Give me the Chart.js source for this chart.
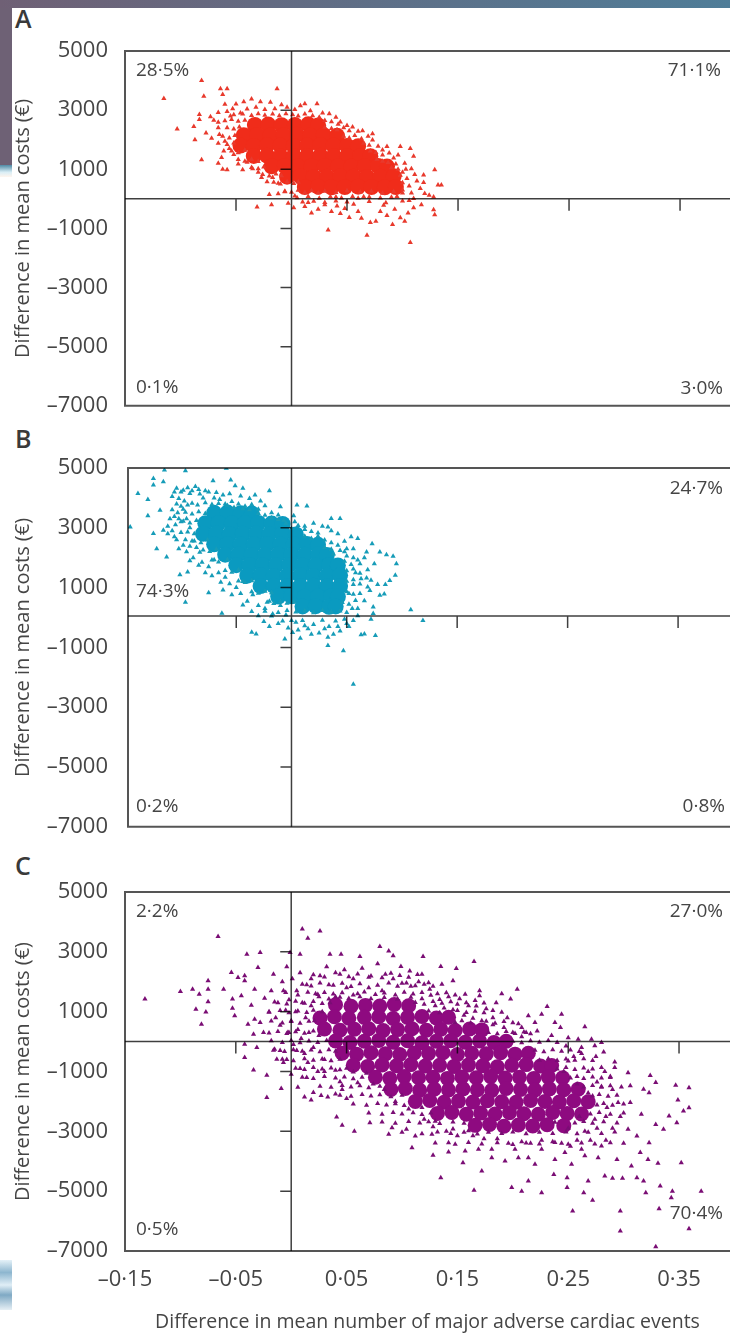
<!DOCTYPE html>
<html>
<head>
<meta charset="utf-8">
<title>Cost-effectiveness planes</title>
<script src="https://cdn.jsdelivr.net/npm/chart.js@4"></script>
<style>
    html, body { margin: 0; padding: 0; background: #fff; }
    body { position: relative; width: 730px; height: 1334px; overflow: hidden; font-family: "Open Sans", sans-serif; }
    canvas { position: absolute; left: 0; }
    .strip { position: absolute; }
    .letter { position: absolute; left: 15px; font-size: 25px; font-weight: 600; line-height: 26px; color: #3a3a3a; }
</style>
</head>
<body>
<div class="strip" style="left:0;top:0;width:730px;height:8px;background:linear-gradient(90deg,#6f6075,#4f7d98)"></div>
<div class="strip" style="left:0;top:8px;width:12px;height:157px;background:#6e6175"></div>
<div class="strip" style="left:0;top:165px;width:12px;height:12px;background:linear-gradient(180deg,#4f8aa5,#d9eef6 60%,#fff5ee)"></div>
<div class="strip" style="left:0;top:1260px;width:12px;height:50px;background:linear-gradient(180deg,#e4f1f8,#8db6cf 25%,#e0eef6 50%,#7fa9c4 70%,#e6eff5)"></div>
<div class="letter" style="top:5px">A</div>
<div class="letter" style="top:425px">B</div>
<div class="letter" style="top:852px">C</div>

<canvas id="chart-a" width="730" height="428" style="top:0"></canvas>
<canvas id="chart-b" width="730" height="432" style="top:420px"></canvas>
<canvas id="chart-c" width="730" height="489" style="top:845px"></canvas>

<script>
// Tick values and labels
const xTicks = [-0.15, -0.05, 0.05, 0.15, 0.25, 0.35];
const xTickLabels = ['–0·15', '–0·05', '0·05', '0·15', '0·25', '0·35'];
const yTicks = [5000, 3000, 1000, -1000, -3000, -5000, -7000];
const yTickLabels = ['5000', '3000', '1000', '–1000', '–3000', '–5000', '–7000'];

// Quadrant percentages: top left, top right, bottom left, bottom right
const quadrantsA = ['28·5%', '71·1%', '0·1%', '3·0%'];
const quadrantsB = ['74·3%', '24·7%', '0·2%', '0·8%'];
const quadrantsC = ['2·2%', '27·0%', '0·5%', '70·4%'];

// Panel A, scattered replicates
const scatterA = [
    [-.115,3390],[-.081,4000],[-.103,2360],[-.088,2450],[-.087,2000],[-.081,1320],[-.079,3470],[-.083,2850],[-.064,3720],[-.058,3720],[-.062,3530],[-.013,3720],[.023,3220],
    [-.083,2680],[-.073,2780],[-.070,2660],[-.066,2920],[-.066,2590],[-.066,2400],[-.065,2180],[-.060,3200],[-.058,2950],[-.055,2800],[-.053,3050],[-.050,3210],[-.046,2900],[-.043,3280],[-.040,3040],[-.036,3380],[-.032,3100],[-.028,3280],[-.024,3020],[-.019,3270],[-.015,3050],[-.009,3180],[-.004,3100],[.003,3020],[.008,3150],[.012,3220],[.017,2980],[.028,2900],[.034,2880],[.040,2760],[.044,2600],[.050,2480],[.055,2430],[.060,2290],[.064,2300],[.069,2120],[.073,2200],[.073,1990],[.078,1780],[.082,1650],[.088,1550],[.092,1380],[.096,1480],[.102,1200],[.103,1000],[.108,1020],[.111,820],[.113,600],[.116,350],[.120,180],[.124,120],[.128,60],
    [-.077,2230],[-.072,2050],[-.066,1880],[-.060,1950],[-.056,1700],[-.066,1200],[-.062,1000],[-.058,980],[-.063,1400],[-.061,1620],[-.052,1500],[-.048,1180],[-.044,980],[-.040,1240],[-.035,1020],[-.030,900],[-.027,720],[-.022,580],[-.017,720],[-.012,530],[-.020,150],[-.012,170],[-.006,240],[.003,100],
    [-.031,-280],[-.018,-200],[-.003,-150],[.002,-300],[.012,-260],[.018,-480],[.024,-350],[.030,-200],[.033,-1050],[.036,-430],[.041,-240],[.044,-500],[.048,-330],[.052,-630],[.056,-180],[.060,-430],[.063,-660],[.068,-1230],[.071,-800],[.076,-760],[.080,-430],[.083,-220],[.086,-560],[.091,-870],[.093,-350],[.098,-640],[.102,-760],[.105,-480],[.107,-1480],[.110,-300],[.128,-370],[.129,-540],[.117,-200],[.015,-120],[.040,60],[.065,70],[.090,50],[.100,200],[.106,-60],
    [.129,980],[.132,470],[.135,470],[.086,1770],[.098,1770],[.107,1700],[.110,1440],[.119,810],[.119,550],
    [-.052,2840],[-.044,2870],[-.036,2820],[-.030,2880],[-.024,2830],[-.017,2870],[-.011,2810],[-.005,2880],[.001,2840],[.006,2800],[.012,2870],[.019,2810],[.025,2760],
    [-.060,2640],[-.054,2680],[-.048,2620],[-.042,2660],[.030,2650],[.036,2610],[.042,2520],
    [-.058,2400],[-.052,2360],[-.047,2430],[.030,2420],[.036,2380],[.041,2340],[.047,2400],[.052,2300],
    [-.062,2120],[-.056,2060],[-.051,2140],[.047,2120],[.052,2060],[.057,2140],[.063,2030],
    [-.058,1840],[-.052,1890],[.065,1880],[.070,1810],
    [-.054,1620],[-.048,1560],[-.042,1640],[.071,1620],[.076,1570],[.082,1480],
    [-.048,1330],[-.042,1270],[-.036,1340],[-.030,1260],[.077,1340],[.082,1270],[.087,1230],[.094,1180],
    [-.036,1060],[-.030,1020],[-.025,1080],[.090,1050],[.096,1000],[.100,900],
    [-.026,820],[-.020,770],[-.014,840],[-.009,780],[.098,800],[.104,690],
    [-.016,560],[-.010,500],[-.004,580],[.002,520],[.006,570],[.100,540],[.106,430],
    [-.006,260],[.000,220],[.006,290],[.012,210],[.018,270],[.024,200],[.030,260],[.040,210],[.050,270],[.062,220],[.072,260],[.082,190],[.092,250],[.100,300],[.108,200],
    [.005,40],[.015,80],[.025,20],[.035,70],[.045,30],[.055,80],[.060,20],[.070,60],[.080,30],[.095,80],[.110,10],
    [.010,-110],[.020,-80],[.030,-120],[.040,-70],[.050,-110],[.070,-90],[.085,-130],[.100,-70]
];

// Panel A, the solid part of the cloud
const denseA = [
    [-.033,2500],[-.021,2510],[-.009,2490],[.003,2500],[.015,2520],[.024,2480],
    [-.043,2150],[-.031,2160],[-.019,2140],[-.007,2150],[.005,2170],[.017,2140],[.029,2150],[.041,2130],
    [-.046,1800],[-.034,1790],[-.022,1810],[-.010,1800],[.002,1790],[.014,1800],[.026,1820],[.038,1800],[.050,1790],[.060,1780],
    [-.034,1450],[-.022,1460],[-.010,1440],[.002,1450],[.014,1440],[.026,1460],[.038,1450],[.050,1440],[.062,1450],[.071,1440],
    [-.018,1100],[-.006,1110],[.006,1090],[.018,1100],[.030,1110],[.042,1100],[.054,1090],[.066,1100],[.078,1110],[.086,1090],
    [-.004,750],[.008,760],[.020,740],[.032,750],[.044,760],[.056,750],[.068,740],[.080,750],[.092,760],
    [.012,400],[.024,410],[.036,390],[.048,400],[.060,410],[.072,400],[.084,390],[.094,400]
];

// Panel B
const scatterB = [
    [-.146,3030],[-.139,4150],[-.130,3950],[-.130,3400],[-.125,4650],[-.125,4430],[-.116,4540],[-.115,4930],[-.096,4910],[-.059,4990],[-.055,4600],[-.119,3590],[-.116,2920],[-.125,2810],[-.122,2300],[-.113,2020],[-.101,1430],[-.094,1520],[-.096,510],[-.075,830],[-.063,145],[.056,-2230],[.047,-1110],[.033,-940],[.033,-660],[-.032,-550],[-.036,-490],[-.006,-720],[.008,-690],[.063,-580],[.066,-550],[.076,-600],[.108,260],[.119,-100],
    [.092,2050],[.086,2100],[.080,2190],[.073,2470],[.095,1800],[.094,1410],[.089,1240],[.084,790],[.080,740],[.074,350],[.069,1020],[.068,2190],[.054,2700],[.060,2640],[.044,3310],[.036,3310],[.033,3030],[.014,3730],[.005,3760],[-.020,4240],[-.033,4100],[-.044,4320],[-.051,4410],[-.071,4570],
    [-.104,4320],[-.100,4200],[-.094,4340],[-.092,4150],[-.087,4380],[-.083,4130],[-.102,3980],[-.097,3900],[-.080,4000],[-.075,4200],[-.070,4000],[-.065,3950],[-.060,3800],[-.054,3880],[-.048,3800],[-.042,3720],[-.036,3780],[-.030,3620],[-.024,3740],[-.018,3500],[-.012,3430],[-.007,3250],[.002,3400],
    [-.108,3600],[-.103,3500],[-.098,3620],[-.095,3300],[-.110,3300],[-.105,3100],[-.100,3200],[-.092,3000],[-.112,2800],[-.106,2700],[-.100,2840],[-.096,2600],[-.090,2560],[-.102,2300],[-.095,2200],[-.089,2000],[-.083,2180],[-.081,1850],[-.075,1700],[-.070,1930],[-.066,1500],[-.060,1350],[-.056,1130],[-.050,1000],[-.044,1200],[-.046,800],[-.040,540],[-.035,760],[-.030,400],[-.024,300],[-.020,540],[-.017,120],[-.010,400],[-.005,80],[.000,-100],
    [-.025,-130],[-.018,50],[-.012,-200],[-.003,-350],[.001,-500],[.004,-160],[.010,-100],[.015,-380],[.020,-230],[.025,-520],[.028,-90],[.034,-300],[.040,-120],[.044,-450],[.048,-60],[.052,-300],[.072,-60],[.074,130],[.060,60],
    [.050,2300],[.056,2000],[.062,1800],[.066,2000],[.058,1500],[.063,1300],[.069,1600],[.072,1250],[.075,1800],[.071,900],[.062,800],[.066,560],[.055,300],[.060,300],[.052,800],[.056,1100],[.078,1100],[.048,2550],[.042,2800],[.036,2900],[.028,3050],[.020,3150],[.012,3050],[.085,1100],
    [-.090,3820],[-.085,3760],[-.078,3840],[-.072,3780],[-.066,3810],[-.058,3750],[-.052,3680],[-.044,3640],[-.038,3600],[-.030,3480],
    [-.096,3520],[-.090,3460],[-.084,3540],[-.078,3480],[-.024,3420],[-.018,3330],[-.012,3280],[-.005,3150],[.003,3200],
    [-.098,3220],[-.092,3160],[-.086,3240],[.000,2980],[.006,3080],[.012,2940],[.018,2880],[.024,2830],
    [-.094,2860],[-.088,2800],[.012,2720],[.018,2640],[.024,2720],[.030,2590],[.036,2500],
    [-.088,2560],[-.082,2500],[-.076,2590],[.030,2340],[.036,2280],[.042,2420],[.048,2200],
    [-.080,2260],[-.074,2210],[-.068,2280],[.038,2120],[.044,2240],[.050,2060],[.056,2300],
    [-.072,1920],[-.066,1860],[-.058,1930],[.048,1880],[.054,1770],[.060,1920],
    [-.060,1570],[-.054,1510],[-.048,1590],[.050,1560],[.056,1620],[.062,1480],[.068,1320],
    [-.048,1220],[-.042,1170],[-.036,1230],[.050,1210],[.056,1260],[.062,1120],
    [-.036,860],[-.030,810],[-.024,880],[-.018,830],[.050,860],[.056,780],
    [-.022,510],[-.016,470],[-.010,530],[-.004,480],[.002,520],[.046,500],[.052,440],[.058,570],
    [-.024,210],[-.012,170],[-.004,230],[.004,180],[.012,220],[.020,160],[.028,230],[.036,180],[.044,220],[.050,170],
    [-.106,4200],[-.098,4260],[-.090,4240],[-.084,4280],[-.078,4240],[-.068,4180],[-.062,4100],[-.056,4140],[-.046,4060],[-.038,3980],[-.028,3900],[-.010,3700],
    [-.108,4050],[-.104,3800],[-.100,3720],[-.094,3760],[-.106,3380],[-.102,3300],[-.112,3050],[-.108,2900],[-.104,2600],[-.098,2420],[-.092,2380],[-.086,2340],[-.092,1900],[-.084,1750],[-.078,1500],[-.072,1400],[-.064,1180],[-.062,920],[-.054,760],[-.044,420],[-.036,200],[-.030,60],
    [-.020,-300],[-.008,-120],[.006,-420],[.012,-280],[.018,-560],[.030,-380],[.038,-560],[.042,-300],[.050,-200],[.056,-100]
];

const denseB = [
    [-.070,3500],[-.058,3510],[-.046,3490],[-.036,3480],
    [-.078,3150],[-.066,3160],[-.054,3140],[-.042,3150],[-.030,3160],[-.018,3140],[-.008,3130],
    [-.080,2800],[-.068,2810],[-.056,2790],[-.044,2800],[-.032,2810],[-.020,2790],[-.008,2800],[.004,2780],
    [-.070,2450],[-.058,2460],[-.046,2440],[-.034,2450],[-.022,2460],[-.010,2440],[.002,2450],[.014,2460],[.024,2430],
    [-.060,2100],[-.048,2110],[-.036,2090],[-.024,2100],[-.012,2110],[.000,2090],[.012,2100],[.024,2110],[.032,2090],
    [-.050,1750],[-.038,1760],[-.026,1740],[-.014,1750],[-.002,1760],[.010,1740],[.022,1750],[.034,1760],[.042,1740],
    [-.040,1400],[-.028,1410],[-.016,1390],[-.004,1400],[.008,1410],[.020,1390],[.032,1400],[.044,1410],
    [-.028,1050],[-.016,1060],[-.004,1040],[.008,1050],[.020,1060],[.032,1040],[.044,1050],
    [-.012,700],[.000,710],[.012,690],[.024,700],[.036,710],[.042,690],
    [.010,370],[.022,380],[.034,360],[.040,370]
];

// Panel C
const scatterC = [
    [-.132,1420],[-.100,1670],[-.089,1750],[-.083,1580],[-.075,2030],[-.075,1750],[-.075,1330],[-.086,1080],[-.077,990],[-.081,580],[-.066,3510],[-.061,1750],[-.054,2310],[-.048,2140],[-.042,2200],[-.042,2030],[-.040,2920],[-.028,2980],[-.030,2480],[-.053,1420],[-.053,1115],[-.051,860],[-.045,1530],[-.036,1215],[-.033,1750],[-.039,580],[-.033,750],[-.034,245],[-.025,300],[-.042,-90],[-.031,-200],[-.042,-535],[-.034,-950],[-.022,-1125],[-.022,-1870],[-.009,-1570],[-.015,-260],[-.013,-590],[-.007,-700],[.000,-1090],[-.001,2980],[.008,2920],[.010,3760],[.015,3450],[.026,3700],[.035,2920],[.045,2920],[.062,2840],
    [-.024,1450],[-.020,1000],[-.018,1700],[-.016,2250],[-.014,800],[-.012,1300],[-.010,550],[-.008,2000],[-.007,1700],[-.005,1050],[-.004,2500],[-.003,300],[-.002,1400],[.000,700],[.001,2100],[.002,-100],[.004,1000],[.005,1700],[.006,400],[.008,2300],[.009,100],[.010,1300],[.012,-400],[.013,800],[.014,1900],[.015,-700],[.016,300],[.018,1200],[.018,2100],[.020,-200],[.021,700],[.022,1600],[.024,-1000],[.025,200],[.026,2200],[.028,1000],[.030,-600],[.032,2500],[.034,1900],[-.010,-300],[-.004,-600],[.005,-300],[.008,-900],[.014,-1200],[.020,-1700],[.027,-1800],[.033,-1850],[.040,-1750],[.046,-1600],[.050,-1900],[.041,-2520],[.046,-2800],[.057,-3000],[.006,-1530],[.012,-1850],[.018,-1950],[-.002,300],
    [.080,3180],[.088,3030],[.092,2870],[.119,2840],[.135,2510],[.149,2440],[.165,2680],[.099,2510],[.107,2360],[.118,2250],[.124,1970],[.136,1920],[.146,2030],[.170,1700],[.170,1530],[.204,1750],[.190,1600],[.198,1420],[.185,1300],[.157,1580],[.167,1190],[.231,1170],[.244,910],[.226,910],[.238,640],[.265,500],[.214,860],[.220,640],[.208,470],[.243,470],[.250,130],[.259,80],[.271,80],[.280,-30],[.274,-140],[.282,-350],[.292,-680],[.292,-870],[.304,-1040],[.324,-1130],[.329,-1370],[.318,-1590],[.323,-1710],[.347,-1460],[.359,-1540],[.349,-1950],[.359,-2210],[.354,-2320],[.341,-2490],[.348,-2710],[.336,-2930],[.329,-2770],[.323,-3380],[.316,-2430],[.306,-2040],[.295,-2040],[.288,-1200],[.306,-1480],[.304,-2930],[.312,-3160],
    [.352,-4050],[.331,-4070],[.322,-3940],[.315,-3710],[.307,-4160],[.294,-3940],[.283,-4490],[.290,-4570],[.299,-4570],[.312,-4550],[.318,-4660],[.320,-5050],[.333,-4830],[.344,-5000],[.370,-5000],[.343,-5220],[.332,-5590],[.359,-6260],[.297,-5660],[.297,-6330],[.329,-6860],[.254,-5660],[.272,-5300],[.264,-5050],[.268,-4660],[.249,-4550],[.249,-4880],[.237,-4440],[.226,-5050],[.214,-4660],[.208,-5000],[.199,-4880],[.165,-4970],[.135,-4550],[.128,-3800],[.109,-3550],[.172,-4330],[.155,-4050],[.142,-3690],[.157,-3660],[.169,-3600],[.181,-3880],[.193,-3990],[.205,-3880],[.214,-3880],[.220,-4100],[.238,-3940],[.253,-4100],[.265,-3820],[.277,-3880],[.091,-2880],[.088,-3100],[.104,-2930],[.112,-3160],[.127,-3100],[.071,-2710],[.142,-3380],[.181,-3600],[.202,-3600],[.226,-3600],[.247,-3710],[.262,-3600],[.280,-3490],
    [.275,-500],[.283,-1000],[.280,-1500],[.290,-1600],[.285,-2200],[.297,-2500],[.290,-2900],[.284,-3300],[.300,-3400],[.276,-2900],[.270,-3300],[.265,-3000],[.258,-3300],[.252,-3500],[.244,-3400],[.236,-3350],[.226,-3300],[.216,-3400],[.208,-3350],[.196,-3400],[.186,-3250],[.174,-3250],[.164,-3150],[.150,-3150],[.140,-3000],[.128,-2850],[.120,-2600],[.262,-200],[.255,-500],[.268,-1000],[.262,-400],[.248,-150],[.235,200],[.222,350],[.212,300],
    [.040,2300],[.048,2400],[.056,2100],[.064,2450],[.070,2150],[.078,2600],[.085,2250],[.092,2100],[.100,1950],[.108,1850],[.115,2000],[.125,1750],[.132,1600],[.142,1500],[.150,1250],[.160,1200],[.176,1100],[.182,800],[.195,800],[.205,600],[.040,1500],[.050,1800],[.060,1600],[.070,1800],[.082,1700],[.035,1300],
    [.020,2230],[.030,2160],[.044,2250],[.052,2170],[.060,2260],[.072,2190],[.082,2130],[.090,2280],[.098,2210],[.106,2150],[.114,2240],
    [.010,1920],[.018,1860],[.026,1960],[.038,1880],[.046,1950],[.054,1840],[.062,1930],[.078,1880],[.088,1960],[.096,1850],[.104,1960],[.112,1870],[.120,1920],[.128,1850],
    [-.005,1640],[.006,1560],[.015,1650],[.024,1570],[.030,1640],[.038,1590],[.046,1630],[.056,1560],[.066,1660],[.076,1570],[.084,1620],[.094,1560],[.102,1650],[.110,1590],[.118,1640],[.126,1550],[.134,1410],[.140,1630],[.148,1560],
    [-.015,1320],[-.004,1260],[.004,1350],[.012,1280],[.020,1340],[.028,1270],[.112,1310],[.120,1250],[.128,1340],[.136,1280],[.144,1330],[.152,1430],[.158,1300],[.166,1370],[.174,1290],
    [-.020,980],[-.010,1040],[-.002,960],[.006,1020],[.014,970],[.020,1050],[.124,1020],[.134,960],[.150,1040],[.158,970],[.166,1010],[.174,960],[.182,1040],[.190,980],
    [-.028,640],[-.018,690],[-.008,620],[.000,670],[.008,610],[.016,680],[.148,640],[.154,700],[.162,620],[.176,680],[.184,610],[.192,670],[.200,630],
    [-.020,290],[-.012,340],[-.004,270],[.004,330],[.012,280],[.020,350],[.178,300],[.186,260],[.194,340],[.202,270],[.210,320],[.216,260],
    [-.018,30],[-.008,-30],[.000,40],[.008,-40],[.016,20],[.024,-30],[.032,40],[.200,10],[.208,-40],[.216,30],[.224,-20],[.232,40],[.240,-30],
    [-.016,-290],[-.006,-330],[.002,-270],[.010,-320],[.018,-280],[.026,-340],[.034,-270],[.040,-320],[.220,-290],[.228,-340],[.236,-270],[.244,-320],[.252,-280],[.260,-330],
    [-.008,-590],[.002,-640],[.012,-570],[.020,-620],[.028,-580],[.036,-640],[.044,-590],[.224,-620],[.232,-570],[.240,-630],[.248,-580],[.256,-620],[.264,-570],[.272,-630],
    [.004,-890],[.012,-930],[.020,-870],[.028,-920],[.036,-880],[.044,-940],[.050,-890],[.240,-920],[.248,-870],[.256,-930],[.264,-880],[.272,-920],[.280,-870],
    [.010,-1190],[.020,-1230],[.030,-1170],[.040,-1220],[.048,-1180],[.056,-1240],[.064,-1190],[.252,-1220],[.258,-1170],[.264,-1230],[.272,-1180],[.280,-1220],[.288,-1170],
    [.026,-1490],[.036,-1530],[.046,-1470],[.054,-1520],[.062,-1480],[.070,-1540],[.080,-1490],[.264,-1520],[.272,-1470],[.280,-1530],[.288,-1480],[.298,-1520],
    [.044,-1790],[.054,-1830],[.064,-1770],[.072,-1820],[.080,-1780],[.090,-1840],[.100,-1790],[.272,-1820],[.278,-1770],[.286,-1830],[.294,-1790],
    [.056,-2090],[.068,-2130],[.078,-2070],[.086,-2120],[.094,-2080],[.102,-2140],[.276,-2120],[.282,-2070],[.290,-2130],[.300,-2090],
    [.070,-2390],[.082,-2430],[.092,-2370],[.100,-2420],[.110,-2380],[.118,-2440],[.126,-2390],[.270,-2420],[.278,-2370],[.288,-2430],[.300,-2390],
    [.082,-2690],[.094,-2730],[.106,-2670],[.116,-2720],[.124,-2680],[.134,-2740],[.146,-2690],[.156,-2730],[.256,-2720],[.264,-2670],[.272,-2730],[.282,-2680],[.294,-2720],
    [.100,-3030],[.118,-3080],[.132,-3020],[.144,-3070],[.156,-3030],[.168,-3090],[.178,-3030],[.190,-3070],[.200,-3020],[.212,-3080],[.224,-3030],[.236,-3070],[.248,-3020],[.258,-3080],[.268,-3030],[.280,-3070],[.292,-3020],
    [.130,-3390],[.148,-3430],[.160,-3370],[.172,-3420],[.186,-3380],[.200,-3440],[.212,-3390],[.224,-3420],[.238,-3370],[.250,-3430],[.262,-3390],[.274,-3420],[.288,-3380],
    [.025,1500],[.034,1420],[.044,1480],[.052,1440],[.062,1500],[.072,1430],[.084,1470],[.096,1420],[.108,1480],[.118,1430],[.130,1200],[.138,1120],[.146,1060],[.156,880],[.164,780],[.172,700],[.182,560],[.192,470],[.200,300],[.208,160],
    [.030,-1000],[.040,-960],[.044,-1340],[.056,-1020],[.060,-1380],[.068,-1060],[.074,-1420],[.084,-1600],[.094,-2000],[.106,-2250],[.118,-2200],[.130,-2660],[.146,-2920],[.160,-2980],[.238,-2700],[.250,-2900],[.260,-2500],[.274,-2600],[.250,-650],[.246,-1000],[.258,-1420],[.268,-1720],[.276,-1350],[.284,-2500]
];

const denseC = [
    [.040,1230],[.054,1180],[.067,1210],[.080,1190],[.093,1240],[.106,1200],
    [.026,790],[.039,830],[.052,780],[.066,810],[.079,830],[.092,770],[.105,810],[.118,840],[.131,790],[.142,810],
    [.030,420],[.044,380],[.057,410],[.070,430],[.083,370],[.096,400],[.109,430],[.122,380],[.135,410],[.148,370],[.161,420],[.172,390],
    [.040,20],[.053,-30],[.066,10],[.079,40],[.092,-20],[.105,30],[.118,-40],[.131,10],[.144,30],[.157,-20],[.170,20],[.183,-30],[.194,10],
    [.046,-390],[.059,-420],[.072,-370],[.085,-410],[.098,-430],[.111,-380],[.124,-400],[.137,-370],[.150,-430],[.163,-390],[.176,-410],[.189,-370],[.202,-420],[.214,-390],
    [.056,-790],[.069,-830],[.082,-780],[.095,-810],[.108,-770],[.121,-820],[.134,-790],[.147,-830],[.160,-780],[.173,-810],[.186,-840],[.199,-790],[.212,-770],[.225,-820],[.235,-800],
    [.076,-1190],[.089,-1230],[.102,-1170],[.115,-1210],[.128,-1190],[.141,-1230],[.154,-1180],[.167,-1210],[.180,-1170],[.193,-1220],[.206,-1190],[.219,-1230],[.232,-1180],[.245,-1210],
    [.090,-1600],[.103,-1570],[.116,-1630],[.129,-1590],[.142,-1620],[.155,-1580],[.168,-1610],[.181,-1630],[.194,-1570],[.207,-1600],[.220,-1620],[.233,-1580],[.246,-1610],[.259,-1590],
    [.112,-2000],[.125,-1970],[.138,-2030],[.151,-1990],[.164,-2020],[.177,-1980],[.190,-2010],[.203,-2030],[.216,-1970],[.229,-2000],[.242,-2020],[.255,-1980],[.268,-2010],
    [.132,-2400],[.145,-2370],[.158,-2430],[.171,-2390],[.184,-2420],[.197,-2380],[.210,-2410],[.223,-2430],[.236,-2370],[.249,-2400],[.262,-2420],
    [.166,-2800],[.179,-2770],[.192,-2830],[.205,-2790],[.218,-2820],[.231,-2780],[.246,-2810]
];

const axisColor = '#3f3f3f';
const textColor = '#454545';
const fontFamily = '"Open Sans", sans-serif';

// Box, crossing axes, their ticks and the quadrant percentages
const planePlugin = {
    id: 'plane',
    afterDatasetsDraw(chart, args, opts) {
        const { ctx, chartArea: area, scales: { x, y } } = chart;
        const zeroX = x.getPixelForValue(0);
        const zeroY = y.getPixelForValue(opts.zeroLine);

        ctx.save();
        ctx.globalCompositeOperation = 'multiply';
        ctx.strokeStyle = axisColor;
        ctx.lineWidth = 1.5;
        ctx.beginPath();
        ctx.moveTo(zeroX, area.top);
        ctx.lineTo(zeroX, area.bottom);
        ctx.moveTo(area.left, zeroY);
        ctx.lineTo(area.right, zeroY);
        xTicks.slice(1).forEach(v => {
            const px = x.getPixelForValue(v);
            ctx.moveTo(px, zeroY);
            ctx.lineTo(px, zeroY + 12);
        });
        yTicks.slice(1, -1).forEach(v => {
            const py = y.getPixelForValue(v);
            ctx.moveTo(zeroX - 11, py);
            ctx.lineTo(zeroX, py);
        });
        ctx.stroke();

        ctx.strokeStyle = '#555';
        ctx.lineWidth = 2;
        ctx.beginPath();
        ctx.moveTo(area.right, area.top);
        ctx.lineTo(area.left, area.top);
        ctx.lineTo(area.left, area.bottom);
        ctx.lineTo(area.right, area.bottom);
        ctx.stroke();
        ctx.restore();

        ctx.save();
        ctx.font = '19px ' + fontFamily;
        ctx.fillStyle = textColor;
        ctx.textBaseline = 'middle';
        opts.labels.forEach((text, i) => {
            const [dx, py] = opts.labelSpots[i];
            ctx.textAlign = i % 2 === 0 ? 'left' : 'right';
            ctx.fillText(text, dx, area.top + py);
        });
        ctx.restore();
    }
};

function makePlane(id, panel) {
    new Chart(document.getElementById(id), {
        type: 'scatter',
        data: {
            datasets: [
                {
                    data: panel.scatter.map(p => ({ x: p[0], y: p[1] })),
                    pointStyle: 'triangle',
                    pointRadius: 3,
                    backgroundColor: panel.edge,
                    borderWidth: 0
                },
                {
                    data: panel.dense.map(p => ({ x: p[0], y: p[1] })),
                    pointStyle: 'circle',
                    pointRadius: panel.denseRadius,
                    backgroundColor: panel.color,
                    borderWidth: 0
                }
            ]
        },
        options: {
            responsive: false,
            animation: false,
            layout: { autoPadding: false, padding: { top: panel.top, left: 0, right: 0, bottom: 0 } },
            plugins: {
                legend: { display: false },
                tooltip: { enabled: false },
                plane: { labels: panel.labels, labelSpots: panel.labelSpots, zeroLine: panel.zeroLine }
            },
            scales: {
                x: {
                    type: 'linear',
                    min: panel.xMin,
                    max: panel.xMax,
                    grid: { display: false },
                    border: { display: false },
                    afterBuildTicks: scale => { scale.ticks = xTicks.map(value => ({ value })); },
                    afterFit: scale => { scale.height = panel.bottomHeight; },
                    ticks: {
                        display: panel.showX,
                        padding: 8,
                        maxRotation: 0,
                        autoSkip: false,
                        color: textColor,
                        font: { family: fontFamily, size: 22 },
                        callback: value => xTickLabels[xTicks.indexOf(value)]
                    },
                    title: {
                        display: panel.showX,
                        text: 'Difference in mean number of major adverse cardiac events',
                        color: textColor,
                        font: { family: fontFamily, size: 19.5 },
                        padding: { top: 0, bottom: 0 }
                    }
                },
                y: {
                    type: 'linear',
                    min: -7000,
                    max: 5000,
                    grid: { display: false },
                    border: { display: false },
                    afterBuildTicks: scale => { scale.ticks = yTicks.map(value => ({ value })); },
                    afterFit: scale => { scale.width = panel.left; },
                    ticks: {
                        padding: panel.left - 116,
                        autoSkip: false,
                        color: textColor,
                        font: { family: fontFamily, size: 22 },
                        callback: value => yTickLabels[yTicks.indexOf(value)]
                    },
                    title: {
                        display: true,
                        text: 'Difference in mean costs (€)',
                        color: textColor,
                        font: { family: fontFamily, size: 20 },
                        padding: { top: 11, bottom: 0 }
                    }
                }
            }
        },
        plugins: [planePlugin]
    });
}

makePlane('chart-a', {
    scatter: scatterA, dense: denseA, denseRadius: 8,
    color: '#f02c1a', edge: '#e8392c',
    labels: quadrantsA,
    labelSpots: [[136, 20], [721, 20], [136, 337], [723, 338]],
    zeroLine: 0, top: 51, left: 125, bottomHeight: 7, xMin: -0.15, xMax: 0.395, showX: false
});

makePlane('chart-b', {
    scatter: scatterB, dense: denseB, denseRadius: 8,
    color: '#0a9ac0', edge: '#169cb8',
    labels: quadrantsB,
    labelSpots: [[136, 124], [723, 21], [136, 339], [725, 339]],
    zeroLine: 50, top: 48, left: 128, bottomHeight: 11, xMin: -0.148, xMax: 0.397, showX: false
});

makePlane('chart-c', {
    scatter: scatterC, dense: denseC, denseRadius: 7.5,
    color: '#8e0a80', edge: '#7a0d74',
    labels: quadrantsC,
    labelSpots: [[136, 20], [723, 20], [136, 338], [723, 322]],
    zeroLine: 0, top: 47, left: 125, bottomHeight: 83, xMin: -0.15, xMax: 0.396, showX: true
});
</script>
</body>
</html>
